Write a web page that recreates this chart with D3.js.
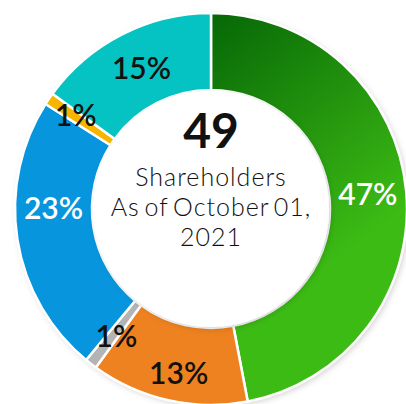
<!DOCTYPE html>
<html>
<head>
<meta charset="utf-8">
<script src="https://cdn.jsdelivr.net/npm/d3@7"></script>
<style>
  body { margin: 0; background: #fff; }
  svg { display: block; font-family: Lato, "Open Sans", sans-serif; }
</style>
</head>
<body>
<div id="chart"></div>
<script>
// share of shareholders, clockwise from 12 o'clock
var labels = ["47%", "13%", "1%", "23%", "1%", "15%"];
var values = [47, 13, 1, 23, 1, 15];
var colors = ["url(#greenGrad)", "#ee8220", "#b4b4b4", "#0795dd", "#f7b500", "#05c3c3"];
var labelColors = ["#fff", "#111", "#111", "#fff", "#111", "#111"];
var labelNudge = [[0, 0], [2, 10], [2, 3], [-2, -25], [-5, -5], [2, 0]];

var centerLines = ["Shareholders", "As of October 01,", "2021"];
var total = 49;

var width = 406, height = 404;
var cx = 211, cy = 209;
var outerR = 196, innerR = 119;

var svg = d3.select("#chart").append("svg")
    .attr("width", width)
    .attr("height", height);

var defs = svg.append("defs");
// gradient coordinates are in the centred group's space
var grad = defs.append("linearGradient")
    .attr("id", "greenGrad")
    .attr("gradientUnits", "userSpaceOnUse")
    .attr("x1", 0).attr("y1", -outerR)
    .attr("x2", outerR * 0.85).attr("y2", outerR * 0.1);
grad.append("stop").attr("offset", "0%").attr("stop-color", "#066706");
grad.append("stop").attr("offset", "100%").attr("stop-color", "#3cbb14");

var shadow = defs.append("filter")
    .attr("id", "shadow")
    .attr("x", "-20%").attr("y", "-20%")
    .attr("width", "140%").attr("height", "140%");
shadow.append("feDropShadow")
    .attr("dx", 2).attr("dy", 2)
    .attr("stdDeviation", 3)
    .attr("flood-color", "#000")
    .attr("flood-opacity", 0.18);

var g = svg.append("g").attr("transform", "translate(" + cx + "," + cy + ")");

// soft shadow behind the ring
g.append("circle")
    .attr("r", outerR)
    .attr("fill", "#fff")
    .attr("filter", "url(#shadow)");

var pie = d3.pie().sort(null).value(function(d) { return d; });
var arc = d3.arc().innerRadius(innerR).outerRadius(outerR);
var arcs = pie(values);

g.selectAll("path.slice")
    .data(arcs)
    .enter().append("path")
    .attr("class", "slice")
    .attr("d", arc)
    .attr("fill", function(d, i) { return colors[i]; })
    .attr("stroke", "#fff")
    .attr("stroke-width", 2.5)
    .attr("stroke-linejoin", "round");

// inner hole with inner shadow
g.append("circle")
    .attr("r", innerR - 1)
    .attr("fill", "#fff")
    .attr("filter", "url(#shadow)");

g.selectAll("text.pct")
    .data(arcs)
    .enter().append("text")
    .attr("class", "pct")
    .attr("transform", function(d, i) {
        var c = arc.centroid(d);
        return "translate(" + (c[0] + labelNudge[i][0]) + "," + (c[1] + labelNudge[i][1]) + ")";
    })
    .attr("text-anchor", "middle")
    .attr("dy", "0.36em")
    .attr("font-size", 30)
    .attr("font-weight", 600)
    .attr("fill", function(d, i) { return labelColors[i]; })
    .text(function(d, i) { return labels[i]; });

g.append("text")
    .attr("text-anchor", "middle")
    .attr("y", -61)
    .attr("font-size", 48)
    .attr("font-weight", 700)
    .attr("fill", "#111")
    .text(total);

g.selectAll("text.center")
    .data(centerLines)
    .enter().append("text")
    .attr("class", "center")
    .attr("text-anchor", "middle")
    .attr("y", function(d, i) { return -23 + i * 30; })
    .attr("font-size", 25)
    .attr("font-weight", 300)
    .attr("letter-spacing", 1)
    .attr("word-spacing", -3)
    .attr("fill", "#111")
    .text(function(d) { return d; });
</script>
</body>
</html>
